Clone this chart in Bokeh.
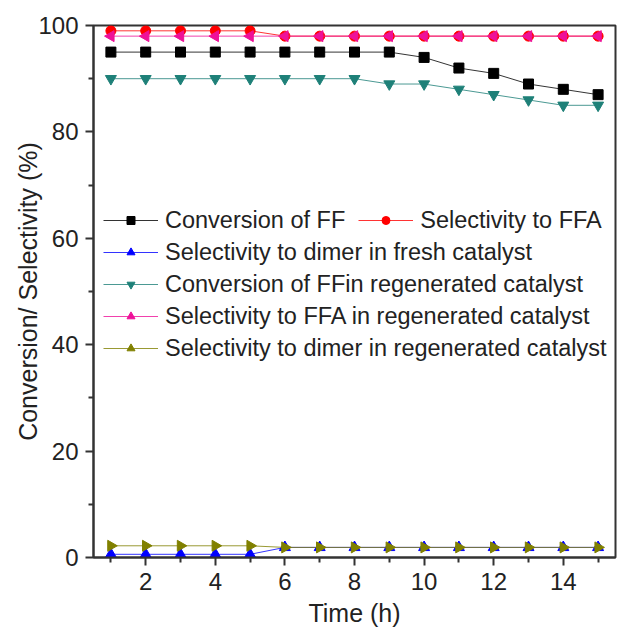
import math
from bokeh.plotting import figure
from bokeh.models import Range1d, FixedTicker, Legend, LegendItem
from bokeh.embed import file_html
from bokeh.resources import INLINE

# ---- data ----
time_h = [1, 2, 3, 4, 5, 6, 7, 8, 9, 10, 11, 12, 13, 14, 15]
conv_ff = [95, 95, 95, 95, 95, 95, 95, 95, 95, 94, 92, 91, 89, 88, 87]
sel_ffa = [99, 99, 99, 99, 99, 98, 98, 98, 98, 98, 98, 98, 98, 98, 98]
sel_dimer_fresh = [0.6, 0.6, 0.6, 0.6, 0.6, 1.9, 1.9, 1.9, 1.9, 1.9, 1.9, 1.9, 1.9, 1.9, 1.9]
conv_ff_regen = [90, 90, 90, 90, 90, 90, 90, 90, 89, 89, 88, 87, 86, 85, 85]
sel_ffa_regen = [98, 98, 98, 98, 98, 98, 98, 98, 98, 98, 98, 98, 98, 98, 98]
sel_dimer_regen = [2.2, 2.2, 2.2, 2.2, 2.2, 1.9, 1.9, 1.9, 1.9, 1.9, 1.9, 1.9, 1.9, 1.9, 1.9]

x_ticks = [2, 4, 6, 8, 10, 12, 14]
x_minor = [1, 3, 5, 7, 9, 11, 13, 15]
y_ticks = [0, 20, 40, 60, 80, 100]
y_minor = [10, 30, 50, 70, 90]

labels = [
    "Conversion of FF",
    "Selectivity to FFA",
    "Selectivity to dimer in fresh catalyst",
    "Conversion of FFin regenerated catalyst",
    "Selectivity to FFA in regenerated catalyst",
    "Selectivity to dimer in regenerated catalyst",
]

FONT = "Liberation Sans"
TXT = "#222222"
AX = "#333333"

p = figure(width=619, height=640, output_backend="svg", toolbar_location=None,
           x_range=Range1d(0.5, 15.5), y_range=Range1d(0, 100),
           min_border_left=93, min_border_right=4, min_border_top=25, min_border_bottom=83)
p.grid.visible = False
p.outline_line_color = AX
p.outline_line_width = 2
p.background_fill_color = "white"
p.border_fill_color = "white"

for ax in (p.xaxis[0], p.yaxis[0]):
    ax.axis_line_color = AX
    ax.axis_line_width = 2
    ax.major_tick_line_color = AX
    ax.major_tick_line_width = 2
    ax.minor_tick_line_color = AX
    ax.minor_tick_line_width = 2
    ax.major_tick_out = 8
    ax.major_tick_in = 0
    ax.minor_tick_out = 5
    ax.minor_tick_in = 0
    ax.major_label_text_font = FONT
    ax.major_label_text_font_size = "24px"
    ax.major_label_text_color = TXT
    ax.axis_label_text_font = FONT
    ax.axis_label_text_font_size = "25px"
    ax.axis_label_text_font_style = "normal"
    ax.axis_label_text_color = TXT
    ax.major_label_standoff = 7

p.xaxis[0].ticker = FixedTicker(ticks=x_ticks, minor_ticks=x_minor)
p.yaxis[0].ticker = FixedTicker(ticks=y_ticks, minor_ticks=y_minor)
p.xaxis[0].axis_label = "Time (h)"
p.yaxis[0].axis_label = "Conversion/ Selectivity (%)"
p.xaxis[0].axis_label_standoff = 6
p.yaxis[0].axis_label_standoff = -7

series = [
    (conv_ff, "#000000", "square", 10, 0.0),
    (sel_ffa, "#FF0000", "circle", 10, 0.0),
    (sel_dimer_fresh, "#0000FF", "triangle", 11, 0.0),
    (conv_ff_regen, "#1E8078", "inverted_triangle", 11, 0.0),
    (sel_ffa_regen, "#EE1199", "triangle", 11, math.pi / 2),
    (sel_dimer_regen, "#808000", "triangle", 11, -math.pi / 2),
]

items = []
for (vals, col, mk, sz, ang), lab in zip(series, labels):
    lr = p.line(time_h, vals, line_color=col, line_width=1, line_alpha=0.8)
    sr = p.scatter(time_h, vals, marker=mk, size=sz, angle=ang,
                   fill_color=col, line_color=col)
    items.append(LegendItem(label=lab, renderers=[lr, sr]))

def make_legend(its, orient, loc, spacing):
    lg = Legend(items=its, orientation=orient, location=loc, spacing=spacing,
                padding=0, margin=0, border_line_color=None,
                background_fill_alpha=0.0, glyph_width=55, glyph_height=20,
                label_height=32, label_standoff=7,
                label_text_font=FONT, label_text_font_size="23.5px",
                label_text_color=TXT)
    return lg

leg1 = make_legend(items[:2], "horizontal", (10, 321), 13)
leg2 = make_legend(items[2:], "vertical", (10, 193), 0)
p.add_layout(leg1, "center")
p.add_layout(leg2, "center")

open("out.html", "w").write(file_html(p, INLINE))
